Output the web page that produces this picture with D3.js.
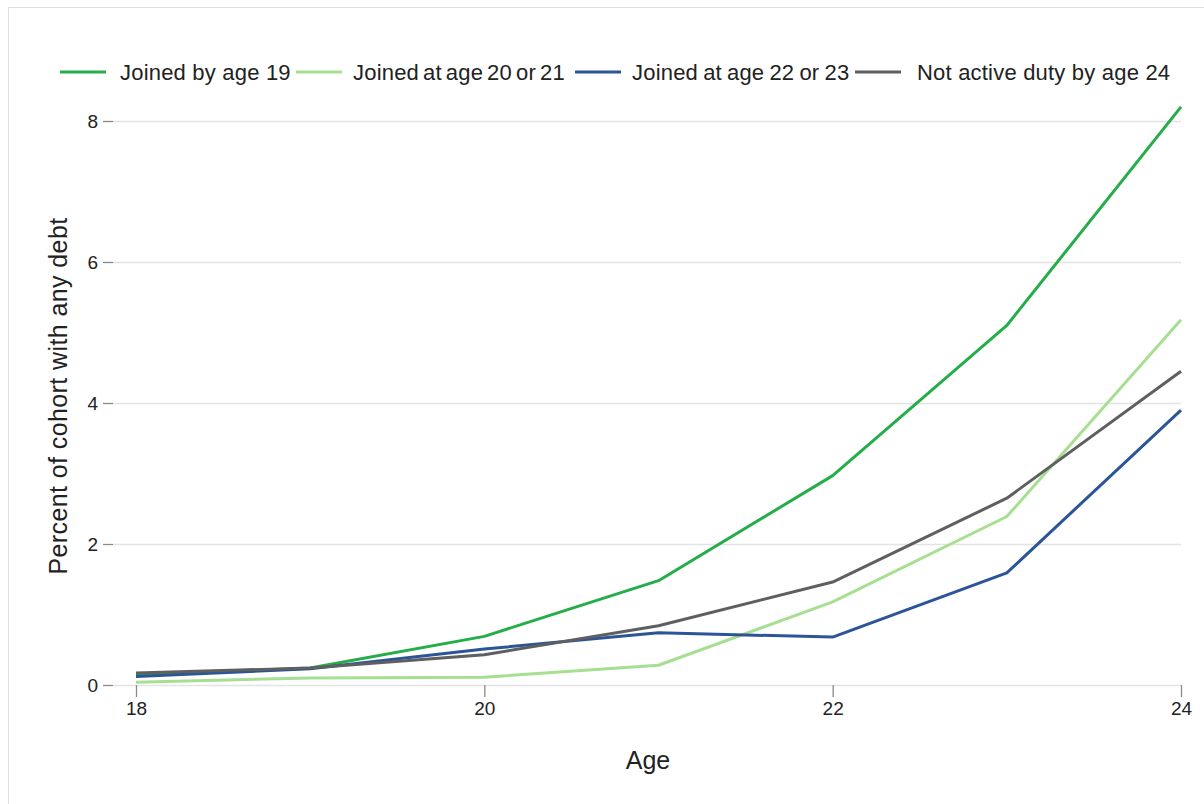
<!DOCTYPE html>
<html>
<head>
<meta charset="utf-8">
<script src="https://cdn.jsdelivr.net/npm/d3@7"></script>
<style>
  html, body { margin: 0; padding: 0; background: #fff; }
  text { font-family: "Liberation Sans", Arial, sans-serif; fill: #222; }
</style>
</head>
<body>
<svg id="chart" width="1204" height="804"></svg>
<script>
const ages = [18, 19, 20, 21, 22, 23, 24];
const seriesNames = ["Joined by age 19", "Joined at age 20 or 21", "Joined at age 22 or 23", "Not active duty by age 24"];
const joinedBy19 = [0.15, 0.24, 0.69, 1.48, 2.97, 5.10, 8.20];
const joined20or21 = [0.04, 0.10, 0.11, 0.28, 1.18, 2.39, 5.18];
const joined22or23 = [0.12, 0.23, 0.51, 0.74, 0.68, 1.59, 3.90];
const notActive = [0.17, 0.24, 0.43, 0.84, 1.46, 2.65, 4.45];
const colors = ["#24ad48", "#a6df92", "#2c5597", "#5f5f61"];
const xTicks = [18, 20, 22, 24];
const yTicks = [0, 2, 4, 6, 8];

const seriesValues = [joinedBy19, joined20or21, joined22or23, notActive];

const svg = d3.select("#chart");
const FONT = "'Liberation Sans', Arial, sans-serif";

// frame
svg.append("rect").attr("x", 8.5).attr("y", 7.5).attr("width", 1210).attr("height", 820)
  .attr("fill", "none").attr("stroke", "#dedede").attr("stroke-width", 1);

const x = d3.scaleLinear().domain([18, 24]).range([136, 1181]);
const y = d3.scaleLinear().domain([0, 8]).range([685, 121]);

// gridlines
svg.append("g").selectAll("line").data(yTicks).join("line")
  .attr("x1", 113).attr("x2", x(24))
  .attr("y1", d => y(d) + 0.5).attr("y2", d => y(d) + 0.5)
  .attr("stroke", "#e3e3e3").attr("stroke-width", 1.5);

// y axis
const yAxis = d3.axisLeft(y).tickValues(yTicks).tickSize(10).tickPadding(5).tickFormat(d3.format("d"));
const gy = svg.append("g").attr("transform", "translate(113,0)").call(yAxis);
gy.select(".domain").remove();
gy.selectAll(".tick line").attr("stroke", "#8a8a8a").attr("stroke-width", 1.3);
gy.selectAll(".tick text").attr("font-size", 19).attr("fill", "#222").style("font-family", FONT);

// x axis
const xAxis = d3.axisBottom(x).tickValues(xTicks).tickSize(12).tickPadding(5).tickFormat(d3.format("d"));
const gx = svg.append("g").attr("transform", "translate(0,685)").call(xAxis);
gx.select(".domain").remove();
gx.selectAll(".tick line").attr("stroke", "#8a8a8a").attr("stroke-width", 1.3);
gx.selectAll(".tick text").attr("font-size", 19).attr("fill", "#222").style("font-family", FONT);

// lines
const line = d3.line().x((d, i) => x(ages[i])).y(d => y(d));
svg.append("g").selectAll("path").data(seriesValues).join("path")
  .attr("d", d => line(d))
  .attr("fill", "none")
  .attr("stroke", (d, i) => colors[i])
  .attr("stroke-width", 3)
  .attr("stroke-linejoin", "round");

// axis titles
svg.append("text").attr("x", 648).attr("y", 769).attr("text-anchor", "middle")
  .attr("font-size", 25).text("Age");
svg.append("text").attr("transform", "translate(67,396) rotate(-90)").attr("text-anchor", "middle")
  .attr("font-size", 25).attr("letter-spacing", 0.4).text("Percent of cohort with any debt");

// legend
const legendSwatchX = [60, 296, 575, 855];
const legendTextX = [120, 353, 632, 917];
const legendWordSpacing = [0, -2.3, -1.2, 0];
const leg = svg.append("g");
seriesNames.forEach((name, i) => {
  leg.append("line").attr("x1", legendSwatchX[i]).attr("x2", legendSwatchX[i] + 46)
    .attr("y1", 72).attr("y2", 72).attr("stroke", colors[i]).attr("stroke-width", 3);
  leg.append("text").attr("x", legendTextX[i]).attr("y", 80)
    .attr("font-size", 22).attr("letter-spacing", 0.2)
    .attr("word-spacing", legendWordSpacing[i]).text(name);
});
</script>
</body>
</html>
